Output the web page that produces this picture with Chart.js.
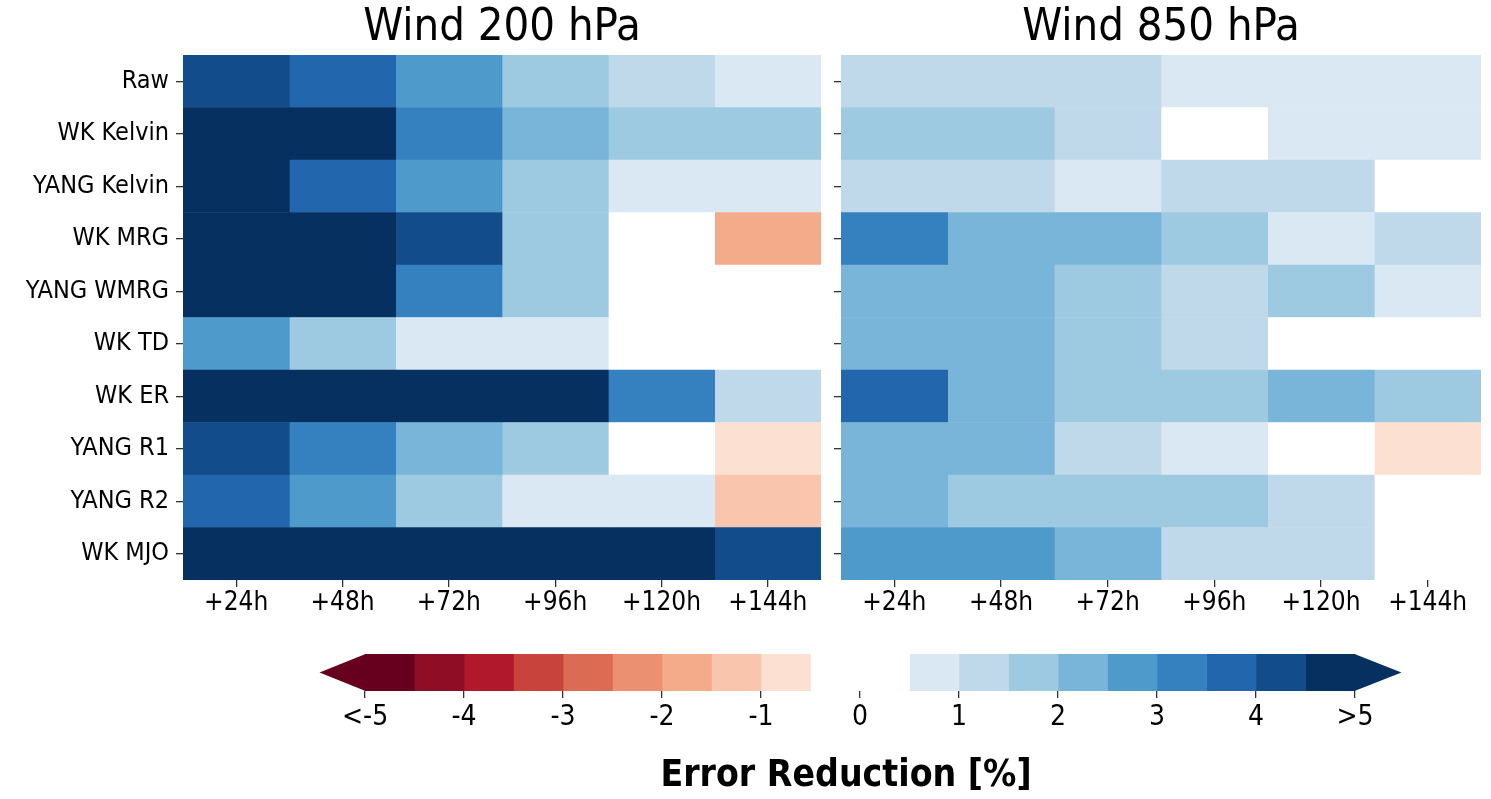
<!DOCTYPE html>
<html>
<head>
<meta charset="utf-8">
<script src="https://cdn.jsdelivr.net/npm/chart.js@4.4.1/dist/chart.umd.min.js"></script>
<style>
  body { margin: 0; background: #fff; width: 1491px; height: 799px; overflow: hidden; position: relative; }
  .box { position: absolute; }
</style>
</head>
<body>
<div class="box" style="left:0;top:0;width:830px;height:640px"><canvas id="left"></canvas></div>
<div class="box" style="left:830px;top:0;width:661px;height:640px"><canvas id="right"></canvas></div>
<div class="box" style="left:0;top:640px;width:1491px;height:159px"><canvas id="cbar"></canvas></div>
<script>
// rows (top to bottom) and lead times
const rows = ['Raw', 'WK Kelvin', 'YANG Kelvin', 'WK MRG', 'YANG WMRG', 'WK TD', 'WK ER', 'YANG R1', 'YANG R2', 'WK MJO'];
const leads = ['+24h', '+48h', '+72h', '+96h', '+120h', '+144h'];

// error reduction [%], one row per method
const wind200 = [
  [4.2, 3.7, 2.8, 1.8, 1.3, 0.8],
  [5.6, 5.3, 3.2, 2.3, 1.8, 1.7],
  [5.4, 3.8, 2.7, 1.7, 0.8, 0.7],
  [6.1, 5.2, 4.3, 1.8, 0.2, -1.7],
  [5.8, 5.1, 3.3, 1.6, 0.3, 0.1],
  [2.7, 1.7, 0.9, 0.8, 0.1, 0.4],
  [6.5, 6.0, 5.7, 5.1, 3.2, 1.2],
  [4.3, 3.3, 2.2, 1.7, -0.2, -0.8],
  [3.6, 2.7, 1.6, 0.9, 0.8, -1.3],
  [7.2, 6.8, 6.4, 5.9, 5.3, 4.2]
];
const wind850 = [
  [1.3, 1.2, 1.1, 0.9, 0.8, 0.8],
  [1.6, 1.6, 1.2, 0.4, 0.7, 0.8],
  [1.2, 1.2, 0.9, 1.1, 1.1, 0.3],
  [3.2, 2.2, 2.1, 1.6, 0.9, 1.2],
  [2.3, 2.2, 1.8, 1.3, 1.6, 0.8],
  [2.2, 2.1, 1.7, 1.2, 0.4, 0.2],
  [3.6, 2.3, 1.9, 1.8, 2.1, 1.6],
  [2.2, 2.1, 1.3, 0.8, 0.1, -0.7],
  [2.1, 1.8, 1.7, 1.6, 1.2, 0.4],
  [2.6, 2.7, 2.3, 1.4, 1.3, 0.3]
];

// discrete colour levels
const levels = [-4.5, -4, -3.5, -3, -2.5, -2, -1.5, -1, -0.5, 0.5, 1, 1.5, 2, 2.5, 3, 3.5, 4, 4.5];
const palette = ['#67001f', '#8f0d25', '#b2182b', '#c8433c', '#dc6b54', '#eb9071', '#f4ab89', '#f9c6ad', '#fce1d3',
  '#ffffff',
  '#dae8f4', '#bfd9eb', '#9ecae1', '#79b5d8', '#4e9acb', '#3581bf', '#2267ad', '#134c8b', '#06305f'];
const cbarTicks = [-5, -4, -3, -2, -1, 0, 1, 2, 3, 4, 5];
const cbarTickLabels = ['<-5', '-4', '-3', '-2', '-1', '0', '1', '2', '3', '4', '>5'];

const FONT = "'DejaVu Sans Condensed', 'DejaVu Sans', sans-serif";
const TICK_COLOR = '#333';

function colorOf(v) {
  let k = 0;
  while (k < levels.length && v >= levels[k]) k++;
  return palette[k];
}

function heatmap(id, values, title, yWidth, padRight, showLabels) {
  const datasets = leads.map((lead, j) => ({
    label: lead,
    data: rows.map(() => [j, j + 1]),
    backgroundColor: values.map(r => colorOf(r[j])),
    borderWidth: 0,
    grouped: false,
    barPercentage: 1,
    categoryPercentage: 1
  }));
  return new Chart(document.getElementById(id), {
    type: 'bar',
    data: { labels: rows, datasets },
    options: {
      indexAxis: 'y',
      responsive: true,
      maintainAspectRatio: false,
      animation: false,
      layout: { padding: { right: padRight } },
      plugins: {
        legend: { display: false },
        tooltip: { enabled: false },
        title: {
          display: true, text: title, fullSize: false, color: '#000',
          font: { family: FONT, size: 45, weight: 'normal' },
          padding: { top: 1, bottom: 0 }
        }
      },
      scales: {
        x: {
          type: 'linear', min: 0, max: 6,
          afterBuildTicks: ax => { ax.ticks = leads.map((l, j) => ({ value: j + 0.5 })); },
          afterFit: s => { s.height = 60; },
          ticks: { callback: (v, i) => leads[i], color: '#000', font: { family: FONT, size: 26 }, padding: 1, maxRotation: 0 },
          grid: { drawOnChartArea: false, drawTicks: true, tickLength: 7, color: TICK_COLOR, lineWidth: 1.3 },
          border: { display: false }
        },
        y: {
          afterFit: s => { s.width = yWidth; },
          ticks: { callback: (v, i) => showLabels ? rows[i] : '', color: '#000', font: { family: FONT, size: 25 }, padding: 7 },
          grid: { offset: false, drawOnChartArea: false, drawTicks: true, tickLength: 7, color: TICK_COLOR, lineWidth: 1.3 },
          border: { display: false }
        }
      }
    }
  });
}

heatmap('left', wind200, 'Wind 200 hPa', 183, 9, true);
heatmap('right', wind850, 'Wind 850 hPa', 11, 10, false);

// colour bar bins built from the level edges
const edges = [-5].concat(levels, [5]);
const bins = [];
for (let k = 0; k < edges.length - 1; k++) {
  bins.push({ lo: edges[k], hi: edges[k + 1], color: palette[k] });
}

const extendArrows = {
  id: 'extendArrows',
  afterDatasetsDraw(chart) {
    const { ctx, chartArea } = chart;
    const x = chart.scales.x;
    const top = chartArea.top, bottom = chartArea.bottom, mid = (top + bottom) / 2;
    ctx.save();
    ctx.fillStyle = palette[0];
    ctx.beginPath();
    ctx.moveTo(x.getPixelForValue(-5) + 0.5, top);
    ctx.lineTo(x.getPixelForValue(-5) + 0.5, bottom);
    ctx.lineTo(x.getPixelForValue(-5.46), mid);
    ctx.closePath();
    ctx.fill();
    ctx.fillStyle = palette[palette.length - 1];
    ctx.beginPath();
    ctx.moveTo(x.getPixelForValue(5) - 0.5, top);
    ctx.lineTo(x.getPixelForValue(5) - 0.5, bottom);
    ctx.lineTo(x.getPixelForValue(5.47), mid);
    ctx.closePath();
    ctx.fill();
    ctx.restore();
  }
};

new Chart(document.getElementById('cbar'), {
  type: 'bar',
  data: {
    labels: [''],
    datasets: bins.map(b => ({
      data: [[b.lo, b.hi]],
      backgroundColor: b.color,
      borderWidth: 0,
      grouped: false,
      barPercentage: 1,
      categoryPercentage: 1
    }))
  },
  options: {
    indexAxis: 'y',
    responsive: true,
    maintainAspectRatio: false,
    animation: false,
    layout: { padding: { left: 290, right: 89, top: 14 } },
    plugins: { legend: { display: false }, tooltip: { enabled: false } },
    scales: {
      x: {
        type: 'linear', min: -5.758, max: 5.475,
        afterBuildTicks: ax => { ax.ticks = cbarTicks.map(v => ({ value: v })); },
        afterFit: s => { s.height = 108; },
        ticks: { callback: (v, i) => cbarTickLabels[i], color: '#000', font: { family: FONT, size: 28 }, padding: 3, maxRotation: 0 },
        grid: { drawOnChartArea: false, drawTicks: true, tickLength: 7, color: TICK_COLOR, lineWidth: 1.3 },
        border: { display: false },
        title: {
          display: true, text: 'Error Reduction [%]', color: '#000',
          font: { family: FONT, size: 37, weight: 'bold' },
          padding: { top: 0, bottom: 0 }
        }
      },
      y: { display: false }
    }
  },
  plugins: [extendArrows]
});
</script>
</body>
</html>
